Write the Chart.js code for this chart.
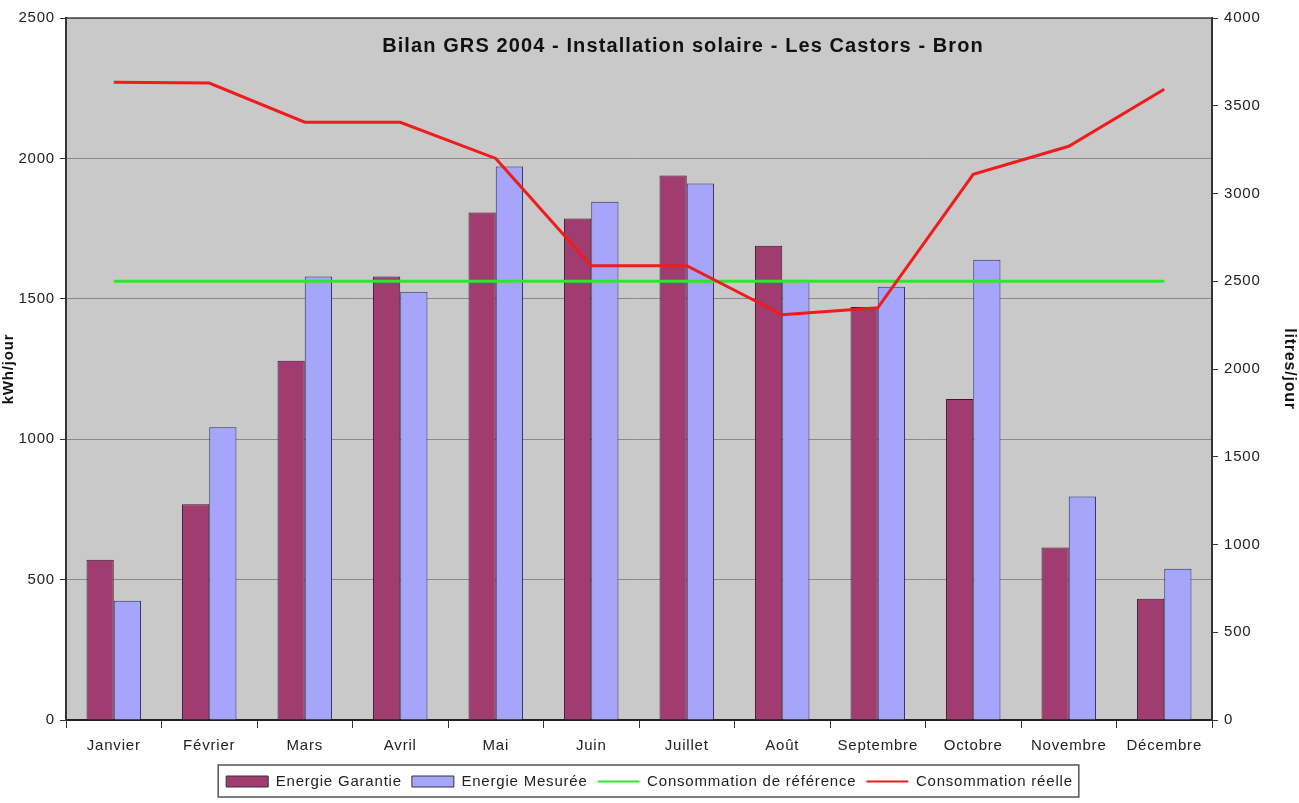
<!DOCTYPE html>
<html>
<head>
<meta charset="utf-8">
<script src="https://cdn.jsdelivr.net/npm/chart.js@4"></script>
<style>
  html, body { margin: 0; padding: 0; background: #fff; }
  #wrap { width: 1299px; height: 803px; }
</style>
</head>
<body>
<div id="wrap"><canvas id="chart" width="1299" height="803"></canvas></div>
<script>
// data
const mois = ['Janvier', 'Février', 'Mars', 'Avril', 'Mai', 'Juin', 'Juillet', 'Août', 'Septembre', 'Octobre', 'Novembre', 'Décembre'];
const energieGarantie = [571, 768, 1279, 1579, 1807, 1786, 1939, 1689, 1471, 1143, 614, 432];
const energieMesuree = [425, 1043, 1579, 1525, 1971, 1846, 1911, 1568, 1543, 1639, 796, 539];
const consoReference = [2500, 2500, 2500, 2500, 2500, 2500, 2500, 2500, 2500, 2500, 2500, 2500];
const consoReelle = [3634, 3629, 3406, 3406, 3200, 2589, 2589, 2309, 2349, 3109, 3269, 3594];

const titre = 'Bilan GRS 2004 - Installation solaire - Les Castors - Bron';
const FONT = '"Liberation Sans", Arial, sans-serif';
const SPACING = '0.8px';

Chart.defaults.font.family = FONT;
Chart.defaults.color = '#222';

// the original text runs a bit wide, add some letter spacing to the whole canvas
// (set before layout too, so the legend is measured with it)
const wideText = {
  id: 'wideText',
  beforeLayout(chart) { chart.ctx.letterSpacing = SPACING; },
  beforeDraw(chart) { chart.ctx.letterSpacing = SPACING; }
};

// grey plot area + top frame + title inside the plot
const plotDecor = {
  id: 'plotDecor',
  beforeDraw(chart) {
    const { ctx, chartArea: a } = chart;
    ctx.save();
    ctx.fillStyle = '#c9c9c9';
    ctx.fillRect(a.left, a.top, a.right - a.left, a.bottom - a.top);
    ctx.restore();
  },
  afterDraw(chart) {
    const { ctx, chartArea: a } = chart;
    ctx.save();
    ctx.strokeStyle = '#444';
    ctx.lineWidth = 1.5;
    ctx.beginPath();
    ctx.moveTo(a.left, a.top);
    ctx.lineTo(a.right, a.top);
    ctx.stroke();
    ctx.font = 'bold 20px ' + FONT;
    ctx.letterSpacing = '1.1px';
    ctx.fillStyle = '#111';
    ctx.textAlign = 'center';
    ctx.textBaseline = 'middle';
    ctx.fillText(titre, 683, 46);

    // frame around the legend
    const boxes = chart.legend.legendHitBoxes;
    if (boxes && boxes.length) {
      let l = Infinity, r = -Infinity, t = Infinity, b = -Infinity;
      boxes.forEach(h => {
        l = Math.min(l, h.left); r = Math.max(r, h.left + h.width);
        t = Math.min(t, h.top); b = Math.max(b, h.top + h.height);
      });
      ctx.strokeStyle = '#555';
      ctx.lineWidth = 1.5;
      ctx.strokeRect(l - 8, t - 9, r - l + 14, b - t + 17);
    }
    ctx.restore();
  }
};

const plain = v => String(v);

new Chart(document.getElementById('chart'), {
  type: 'bar',
  data: {
    labels: mois,
    datasets: [
      {
        label: 'Energie Garantie',
        data: energieGarantie,
        backgroundColor: '#a03c70',
        borderColor: '#3e1530',
        borderWidth: 1,
        barPercentage: 1,
        categoryPercentage: 0.57,
        yAxisID: 'y',
        order: 3
      },
      {
        label: 'Energie Mesurée',
        data: energieMesuree,
        backgroundColor: '#a5a5fb',
        borderColor: '#2e2e66',
        borderWidth: 1,
        barPercentage: 1,
        categoryPercentage: 0.57,
        yAxisID: 'y',
        order: 4
      },
      {
        type: 'line',
        label: 'Consommation de référence',
        data: consoReference,
        borderColor: '#2ee62e',
        backgroundColor: '#2ee62e',
        borderWidth: 3,
        pointRadius: 0,
        tension: 0,
        yAxisID: 'y1',
        order: 2
      },
      {
        type: 'line',
        label: 'Consommation réelle',
        data: consoReelle,
        borderColor: '#ee1c1c',
        backgroundColor: '#ee1c1c',
        borderWidth: 3,
        pointRadius: 0,
        tension: 0,
        yAxisID: 'y1',
        order: 1
      }
    ]
  },
  options: {
    responsive: false,
    animation: false,
    layout: { padding: { top: 18, left: 0, right: 0, bottom: 4 } },
    plugins: {
      tooltip: { enabled: false },
      legend: {
        position: 'bottom',
        labels: {
          font: { size: 15 },
          color: '#222',
          usePointStyle: true,
          pointStyleWidth: 42,
          boxHeight: 11,
          padding: 10,
          generateLabels(chart) {
            return chart.data.datasets.map((ds, i) => {
              const isLine = ds.type === 'line';
              return {
                text: ds.label,
                datasetIndex: i,
                fillStyle: ds.backgroundColor,
                strokeStyle: isLine ? ds.borderColor : '#333',
                lineWidth: isLine ? 2 : 1,
                pointStyle: isLine ? 'line' : 'rect',
                fontColor: '#222',
                hidden: false
              };
            });
          }
        }
      }
    },
    scales: {
      x: {
        offset: true,
        grid: {
          offset: true,
          drawOnChartArea: false,
          drawTicks: true,
          tickLength: 8,
          color: '#333'
        },
        border: { color: '#222', width: 2 },
        ticks: { font: { size: 15 }, color: '#222', padding: 9, maxRotation: 0 },
        afterFit(s) { s.height = 44; }
      },
      y: {
        position: 'left',
        min: 0,
        max: 2500,
        ticks: { stepSize: 500, font: { size: 15 }, color: '#222', padding: 5, callback: plain },
        grid: { color: '#8a8a8a', lineWidth: 1, tickLength: 6, tickColor: '#333' },
        border: { color: '#333', width: 2 },
        title: { display: true, text: 'kWh/jour', font: { size: 15, weight: 'bold' }, color: '#111', padding: 0 },
        afterFit(s) { s.width = 66; }
      },
      y1: {
        position: 'right',
        min: 0,
        max: 4000,
        ticks: { stepSize: 500, font: { size: 15 }, color: '#222', padding: 6, callback: plain },
        grid: { drawOnChartArea: false, tickLength: 6, tickColor: '#333' },
        border: { color: '#333', width: 2 },
        title: { display: true, text: 'litres/jour', font: { size: 16, weight: 'bold' }, color: '#111', padding: 0 },
        afterFit(s) { s.width = 87; }
      }
    }
  },
  plugins: [wideText, plotDecor]
});
</script>
</body>
</html>
